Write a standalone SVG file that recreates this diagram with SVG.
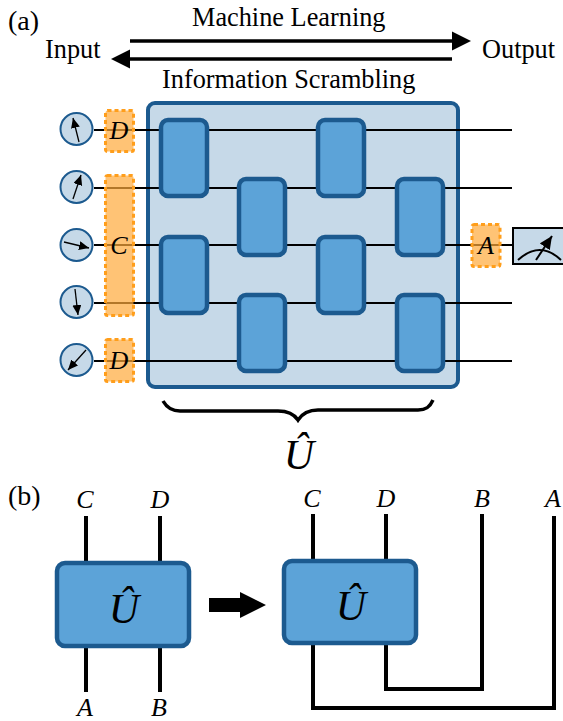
<svg xmlns="http://www.w3.org/2000/svg" width="563" height="721" viewBox="0 0 563 721">
<style>
text{font-family:"Liberation Serif","Times New Roman",serif;fill:#000}
.t{font-size:26.300px}
.l{font-size:28px}
.m{font-style:italic;font-size:26px;text-anchor:middle}
.u{font-style:italic;font-size:42px;text-anchor:middle}
.gate{fill:#5ca3d8;stroke:#1c5a8f;stroke-width:4.500}
.panel{fill:#c6d9e8;stroke:#1c5a8f;stroke-width:4}
.q{fill:#c6d9e8;stroke:#1c5a8f;stroke-width:2}
.o{fill:#ffa93a;fill-opacity:.7;stroke:#ff9e1b;stroke-width:3;stroke-dasharray:4 3}
.w{stroke:#000;stroke-width:2;fill:none}
.wb{stroke:#000;stroke-width:4;fill:none}
.n{stroke:#000;stroke-width:1.300;fill:none;marker-end:url(#ah)}
</style>
<defs>
<marker id="ah" markerUnits="userSpaceOnUse" markerWidth="11" markerHeight="10" refX="10" refY="4.500" orient="auto"><path d="M0 0L10 4.500L0 9Z" fill="#000"/></marker>
<marker id="ahb" markerUnits="userSpaceOnUse" markerWidth="14" markerHeight="12" refX="13" refY="6" orient="auto"><path d="M0 0L13 6L0 12Z" fill="#000"/></marker>
</defs>
<text class="l" x="8" y="30">(a)</text>
<text class="t" x="192" y="26">Machine Learning</text>
<text class="t" x="45" y="58">Input</text>
<text class="t" x="482" y="58">Output</text>
<text class="t" x="162" y="88">Information Scrambling</text>
<g id="panel"><rect class="panel" x="148" y="103" width="310" height="284" rx="7"/></g>
<g id="connectors">
<path class="w" d="M94 130H512M94 188H512M94 245H513M94 303H512M94 361H512"/>
<path d="M452 41H130" stroke="#000" stroke-width="3.500"/>
<path d="M452 31.500L471 41L452 50.500Z"/>
<path d="M130 59H452" stroke="#000" stroke-width="3.500"/>
<path d="M130 49.500L111 59L130 68.500Z"/>
<path class="wb" d="M86 516V563M160 516V563M86 646V692M160 646V692"/>
<path class="wb" d="M313 514V561M386 514V561M482 514V689H386V643M554 516V708H313V643"/>
<path d="M209 598H240V592L266 605L240 618V612H209Z"/>
<path d="M163 401C167 408 172 411 180 411H278C288 411 294 414 298 420C302 414 308 410 318 410H418C426 410 430 407 433 400" fill="none" stroke="#000" stroke-width="3.500"/>
</g>
<g id="gate1"><rect class="gate" x="161" y="120" width="46" height="76" rx="7"/></g>
<g id="gate2"><rect class="gate" x="161" y="237" width="46" height="76" rx="7"/></g>
<g id="gate3"><rect class="gate" x="239" y="179" width="46" height="76" rx="7"/></g>
<g id="gate4"><rect class="gate" x="239" y="295" width="46" height="76" rx="7"/></g>
<g id="gate5"><rect class="gate" x="318" y="120" width="46" height="76" rx="7"/></g>
<g id="gate6"><rect class="gate" x="318" y="237" width="46" height="76" rx="7"/></g>
<g id="gate7"><rect class="gate" x="397" y="179" width="46" height="76" rx="7"/></g>
<g id="gate8"><rect class="gate" x="397" y="295" width="46" height="76" rx="7"/></g>
<g id="q1"><circle class="q" cx="76.500" cy="129" r="16"/><path class="n" d="M79 142L73 118"/></g>
<g id="q2"><circle class="q" cx="76.500" cy="187" r="16"/><path class="n" d="M73 199L81 175"/></g>
<g id="q3"><circle class="q" cx="76.500" cy="245" r="16"/><path class="n" d="M64 242L89 248"/></g>
<g id="q4"><circle class="q" cx="76.500" cy="302" r="16"/><path class="n" d="M75 289L78 315"/></g>
<g id="q5"><circle class="q" cx="76.500" cy="360" r="16"/><path class="n" d="M86 350L68 370"/></g>
<g id="boxD1"><rect class="o" x="105.500" y="110.500" width="28" height="41" rx="2"/><text class="m" x="119" y="139">D</text></g>
<g id="boxC"><rect class="o" x="105.500" y="175.500" width="28" height="140" rx="2"/><text class="m" x="119" y="254">C</text></g>
<g id="boxD2"><rect class="o" x="105.500" y="339.500" width="28" height="42" rx="2"/><text class="m" x="119" y="369">D</text></g>
<g id="boxA"><rect class="o" x="472" y="224.500" width="28" height="42" rx="2"/><text class="m" x="486" y="254">A</text></g>
<g id="meter"><rect x="513" y="228" width="52" height="36" fill="#c6d9e8" stroke="#000" stroke-width="2"/>
<path d="M518 260Q540 240 561 260" fill="none" stroke="#000" stroke-width="2"/>
<path d="M536 260L552 236" stroke="#000" stroke-width="2" fill="none" marker-end="url(#ahb)"/></g>
<text class="u" x="299" y="469">Û</text>
<text class="l" x="8" y="505">(b)</text>
<text class="m" x="85" y="508">C</text>
<text class="m" x="160" y="508">D</text>
<text class="m" x="85" y="716">A</text>
<text class="m" x="159" y="716">B</text>
<g id="U1"><rect class="gate" x="57" y="563" width="132" height="83" rx="8"/><text class="u" x="124" y="623">Û</text></g>
<g id="U2"><rect class="gate" x="284" y="561" width="132" height="82" rx="8"/><text class="u" x="351" y="620">Û</text></g>
<text class="m" x="312" y="507">C</text>
<text class="m" x="386" y="507">D</text>
<text class="m" x="482" y="507">B</text>
<text class="m" x="553" y="507">A</text>
</svg>
